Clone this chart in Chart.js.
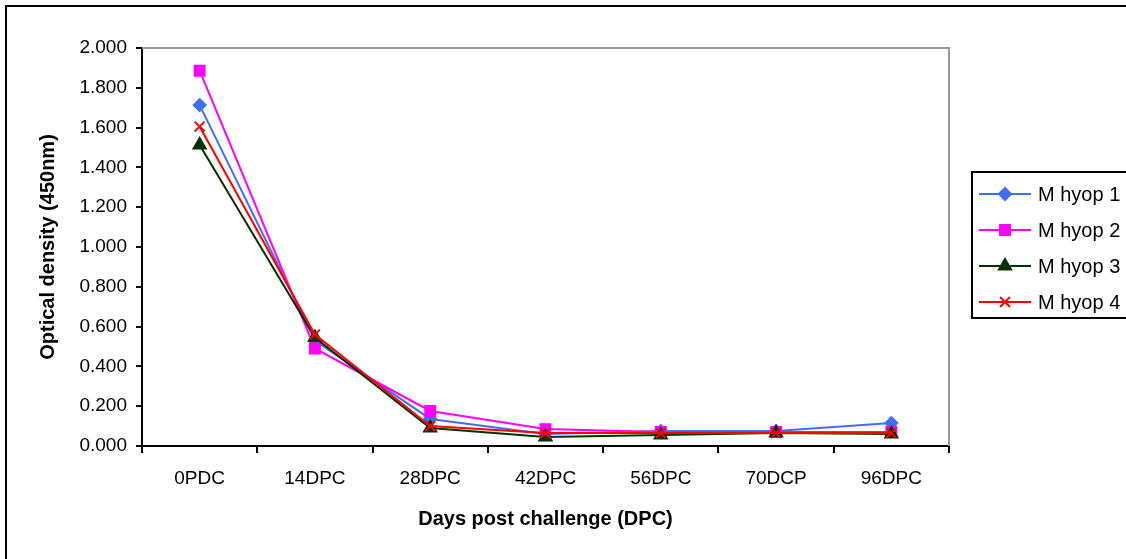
<!DOCTYPE html>
<html>
<head>
<meta charset="utf-8">
<script src="https://cdn.jsdelivr.net/npm/chart.js@4.4.1/dist/chart.umd.min.js"></script>
<style>
    html, body { margin: 0; padding: 0; background: #fff; }
    #wrap { width: 1126px; height: 559px; }
</style>
</head>
<body>
<div id="wrap"><canvas id="odChart" width="1126" height="559"></canvas></div>
<script>
const categories = ["0PDC", "14DPC", "28DPC", "42DPC", "56DPC", "70DCP", "96DPC"];
const seriesNames = ["M hyop 1", "M hyop 2", "M hyop 3", "M hyop 4"];
const hyop1 = [1.713, 0.530, 0.136, 0.060, 0.075, 0.075, 0.115];
const hyop2 = [1.886, 0.490, 0.176, 0.085, 0.070, 0.070, 0.070];
const hyop3 = [1.513, 0.545, 0.090, 0.045, 0.055, 0.065, 0.060];
const hyop4 = [1.605, 0.560, 0.100, 0.065, 0.065, 0.065, 0.065];
const yMin = 0;
const yMax = 2;
const yStep = 0.2;

const FONT = "'Liberation Sans', Arial, sans-serif";

// frame round the picture (right and bottom are cut off) + grey border of plot area
const framePlugin = {
    id: "frame",
    beforeDraw(chart) {
        const ctx = chart.ctx;
        ctx.save();
        ctx.fillStyle = "#fff";
        ctx.fillRect(0, 0, chart.width, chart.height);
        ctx.strokeStyle = "#000";
        ctx.lineWidth = 2;
        ctx.beginPath();
        ctx.moveTo(chart.width + 2, 6);
        ctx.lineTo(6, 6);
        ctx.lineTo(6, chart.height + 2);
        ctx.stroke();
        ctx.restore();
    },
    afterDatasetsDraw(chart) {
        const a = chart.chartArea;
        const ctx = chart.ctx;
        ctx.save();
        ctx.strokeStyle = "#999";
        ctx.lineWidth = 2;
        ctx.beginPath();
        ctx.moveTo(a.left, a.top);
        ctx.lineTo(a.right, a.top);
        ctx.lineTo(a.right, a.bottom);
        ctx.stroke();
        ctx.restore();
    }
};

// excel style legend: line with marker in the middle
const boxLegend = {
    id: "boxLegend",
    afterDraw(chart) {
        const ctx = chart.ctx;
        const a = chart.chartArea;
        const n = chart.data.datasets.length;
        const rowH = 36;
        const boxH = n * rowH + 2;
        const boxX = a.right + 23;
        const boxY = (a.top + a.bottom) / 2 - boxH / 2 - 2;
        ctx.save();
        ctx.fillStyle = "#fff";
        ctx.fillRect(boxX, boxY, 200, boxH);
        ctx.strokeStyle = "#000";
        ctx.lineWidth = 2;
        ctx.strokeRect(boxX, boxY, 200, boxH);
        chart.data.datasets.forEach((ds, i) => {
            const y = boxY + 22 + i * rowH;
            ctx.strokeStyle = ds.borderColor;
            ctx.lineWidth = 2;
            ctx.beginPath();
            ctx.moveTo(boxX + 7, y);
            ctx.lineTo(boxX + 59, y);
            ctx.stroke();
            ctx.fillStyle = ds.backgroundColor;
            ctx.strokeStyle = ds.borderColor;
            Chart.helpers.drawPoint(ctx, {
                pointStyle: ds.pointStyle,
                radius: ds.pointRadius,
                borderWidth: 2
            }, boxX + 33, y);
            ctx.fillStyle = "#000";
            ctx.font = "20px " + FONT;
            ctx.textBaseline = "middle";
            ctx.textAlign = "left";
            ctx.fillText(ds.label, boxX + 66, y + 1);
        });
        ctx.restore();
    }
};

function makeSet(label, data, color, style, radius, order) {
    return {
        label: label,
        data: data,
        borderColor: color,
        backgroundColor: color,
        borderWidth: 2,
        pointStyle: style,
        pointRadius: radius,
        pointHoverRadius: radius,
        pointBorderWidth: 2,
        tension: 0,
        order: order
    };
}

new Chart(document.getElementById("odChart"), {
    type: "line",
    data: {
        labels: categories,
        datasets: [
            makeSet(seriesNames[0], hyop1, "#3f6ff5", "rectRot", 6, 4),
            makeSet(seriesNames[1], hyop2, "#ff00ff", "rect", 7, 3),
            makeSet(seriesNames[2], hyop3, "#003300", "triangle", 7, 2),
            makeSet(seriesNames[3], hyop4, "#ff0000", "crossRot", 7, 1),
        ],
    },
    options: {
        responsive: false,
        devicePixelRatio: 1,
        animation: false,
        layout: { padding: { left: 30, right: 177, top: 48, bottom: 28 } },
        plugins: {
            legend: { display: false },
            tooltip: { enabled: false },
        },
        scales: {
            x: {
                offset: true,
                afterFit: (s) => { s.height = 85; },
                grid: {
                    offset: true,
                    drawOnChartArea: false,
                    drawTicks: true,
                    tickLength: 7,
                    color: "#000",
                    lineWidth: 2,
                },
                border: { color: "#000", width: 2 },
                ticks: {
                    color: "#000",
                    padding: 14,
                    maxRotation: 0,
                    font: { family: FONT, size: 19 },
                },
                title: {
                    display: true,
                    text: "Days post challenge (DPC)",
                    color: "#000",
                    padding: { top: 4, bottom: 0 },
                    font: { family: FONT, size: 20, weight: "bold", lineHeight: 1.2 },
                },
            },
            y: {
                min: yMin,
                max: yMax,
                afterFit: (s) => { s.width = 112; },
                grid: {
                    drawOnChartArea: false,
                    drawTicks: true,
                    tickLength: 6,
                    color: "#000",
                    lineWidth: 2,
                },
                border: { color: "#000", width: 2 },
                ticks: {
                    stepSize: yStep,
                    color: "#000",
                    padding: 9,
                    font: { family: FONT, size: 19 },
                    callback: (v) => v.toFixed(3),
                },
                title: {
                    display: true,
                    text: "Optical density (450nm)",
                    color: "#000",
                    padding: { top: 6, bottom: 0 },
                    font: { family: FONT, size: 20, weight: "bold", lineHeight: 1.2 },
                },
            },
        },
    },
    plugins: [framePlugin, boxLegend],
});
</script>
</body>
</html>
